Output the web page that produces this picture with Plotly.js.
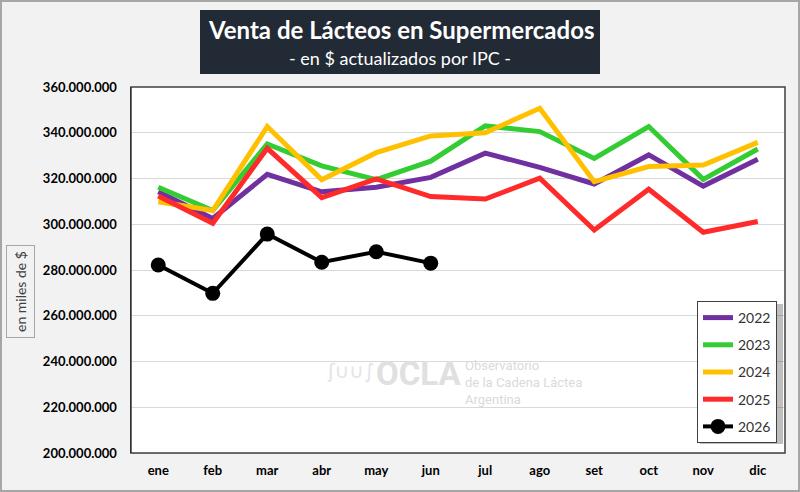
<!DOCTYPE html>
<html>
<head>
<meta charset="utf-8">
<script src="https://cdn.plot.ly/plotly-3.0.1.min.js"></script>
<style>
  body { margin: 0; background: #f2f2f2; }
  #wrap { position: relative; width: 800px; height: 492px; }
  #chart { width: 800px; height: 492px; }
  #frame { position: absolute; left: 0; top: 0; width: 800px; height: 492px;
           box-sizing: border-box; border: 2px solid #a6a6a6; pointer-events: none; }
</style>
</head>
<body>
<div id="wrap">
  <div id="chart"></div>
  <div id="frame"></div>
</div>
<script>
// meses
var months = ['ene','feb','mar','abr','may','jun','jul','ago','set','oct','nov','dic'];

// ventas en millones de miles de $
var v2022 = [314.2, 302.5, 321.8, 314.2, 316.2, 320.5, 331.1, 324.9, 317.6, 330.3, 316.7, 328.4];
var v2023 = [316.2, 306.0, 335.1, 325.5, 319.5, 327.6, 343.0, 340.5, 328.8, 342.7, 319.6, 332.9];
var v2024 = [309.8, 306.0, 342.7, 319.5, 331.3, 338.6, 340.0, 350.7, 318.6, 325.2, 325.9, 335.8];
var v2025 = [312.3, 300.4, 333.2, 311.6, 319.8, 312.1, 311.0, 320.1, 297.5, 315.3, 296.5, 301.2];
var v2026 = [282.2, 269.8, 295.7, 283.4, 288.0, 283.0];

var years = ['2022','2023','2024','2025','2026'];
var colors = ['#7030a0','#33cc33','#ffc000','#ff2b2b','#000000'];
var series = [v2022, v2023, v2024, v2025, v2026];

var FONT = 'Lato, "Open Sans", sans-serif';

var data = [];
for (var i = 0; i < series.length; i++) {
  var isLast = (i == series.length - 1);
  data.push({
    type: 'scatter',
    mode: isLast ? 'lines+markers' : 'lines',
    name: years[i],
    legendgroup: years[i],
    x: months.slice(0, series[i].length),
    y: series[i].map(function(v){ return v * 1e6; }),
    line: { color: colors[i], width: isLast ? 4 : 5 },
    marker: { color: colors[i], size: 15 }
  });
}

// pixel -> paper helpers (plot area 131..785 x 87..453)
var L = 131, R = 785, T = 87, B = 453;
function px(x){ return (x - L) / (R - L); }
function py(y){ return (B - y) / (B - T); }

var layout = {
  width: 800,
  height: 492,
  paper_bgcolor: '#f2f2f2',
  plot_bgcolor: '#ffffff',
  separators: ',.',
  font: { family: FONT, color: '#000' },
  margin: { l: L, r: 800 - R, t: T, b: 492 - B, pad: 0 },
  showlegend: true,
  legend: {
    x: px(697), y: py(301), xanchor: 'left', yanchor: 'top',
    bgcolor: '#ffffff', bordercolor: '#404040', borderwidth: 1,
    font: { size: 14, family: FONT, color: '#333' },
    tracegroupgap: 6,
    itemwidth: 30
  },
  xaxis: {
    type: 'category',
    range: [-0.5, months.length - 0.5],
    showgrid: false,
    showline: true, linecolor: '#d0d0d0', linewidth: 1,
    ticks: '', ticklabelstandoff: 5,
    tickfont: { size: 13, family: FONT, color: '#000', weight: 'bold' },
    fixedrange: true
  },
  yaxis: {
    range: [200e6, 360e6],
    dtick: 20e6,
    tickformat: ',d',
    showgrid: true, gridcolor: '#d9d9d9', gridwidth: 1,
    showline: true, linecolor: '#000', linewidth: 1.5,
    zeroline: false,
    ticks: '', ticklabelstandoff: 10,
    tickfont: { size: 13, family: FONT, color: '#000', weight: 'bold' },
    fixedrange: true
  },
  shapes: [
    // right/top frame of plot area
    { type: 'rect', xref: 'paper', yref: 'paper', x0: 0, x1: 1, y0: 0, y1: 1,
      line: { color: '#404040', width: 1.5 }, fillcolor: 'rgba(0,0,0,0)', layer: 'above' },
    // title box
    { type: 'rect', xref: 'paper', yref: 'paper', x0: px(200), x1: px(600), y0: py(74), y1: py(10),
      line: { width: 0 }, fillcolor: '#222a35' },
    // legend shadow
    { type: 'rect', xref: 'paper', yref: 'paper', x0: px(700), x1: px(783), y0: py(444), y1: py(304),
      line: { width: 0 }, fillcolor: 'rgba(0,0,0,0.25)', layer: 'above' }
  ],
  annotations: [
    { text: '<b>Venta de Lácteos en Supermercados</b>', xref: 'paper', yref: 'paper',
      x: px(401), y: py(30), xanchor: 'center', yanchor: 'middle', showarrow: false,
      font: { size: 24, color: '#ffffff', family: FONT } },
    { text: '- en $ actualizados por IPC -', xref: 'paper', yref: 'paper',
      x: px(400), y: py(58), xanchor: 'center', yanchor: 'middle', showarrow: false,
      font: { size: 18, color: '#ffffff', family: FONT } },
    { text: 'en miles de $', xref: 'paper', yref: 'paper', x: px(20), y: py(292),
      xanchor: 'center', yanchor: 'middle',
      textangle: -90, showarrow: false, font: { size: 14, color: '#404040', family: FONT },
      bordercolor: '#a6a6a6', borderwidth: 1, borderpad: 5, bgcolor: '#f2f2f2' },
    // watermark
    { text: '<b>OCLA</b>', xref: 'paper', yref: 'paper', x: px(419), y: py(373),
      xanchor: 'center', yanchor: 'middle',
      showarrow: false, font: { size: 33, color: '#e0e0e0', family: 'Roboto, sans-serif' } },
    { text: 'Observatorio<br>de la Cadena Láctea<br>Argentina', xref: 'paper', yref: 'paper',
      x: px(463), y: py(382), xanchor: 'left', yanchor: 'middle', align: 'left', showarrow: false,
      font: { size: 13, color: '#dadada', family: 'Roboto, sans-serif' } },
    { text: 'ʃ∪∪∫', xref: 'paper', yref: 'paper', x: px(350), y: py(371),
      xanchor: 'center', yanchor: 'middle',
      showarrow: false, font: { size: 20, color: '#e4e4e4', family: 'DejaVu Sans, sans-serif' } }
  ]
};

Plotly.newPlot('chart', data, layout, { displayModeBar: false, staticPlot: true });
</script>
</body>
</html>
